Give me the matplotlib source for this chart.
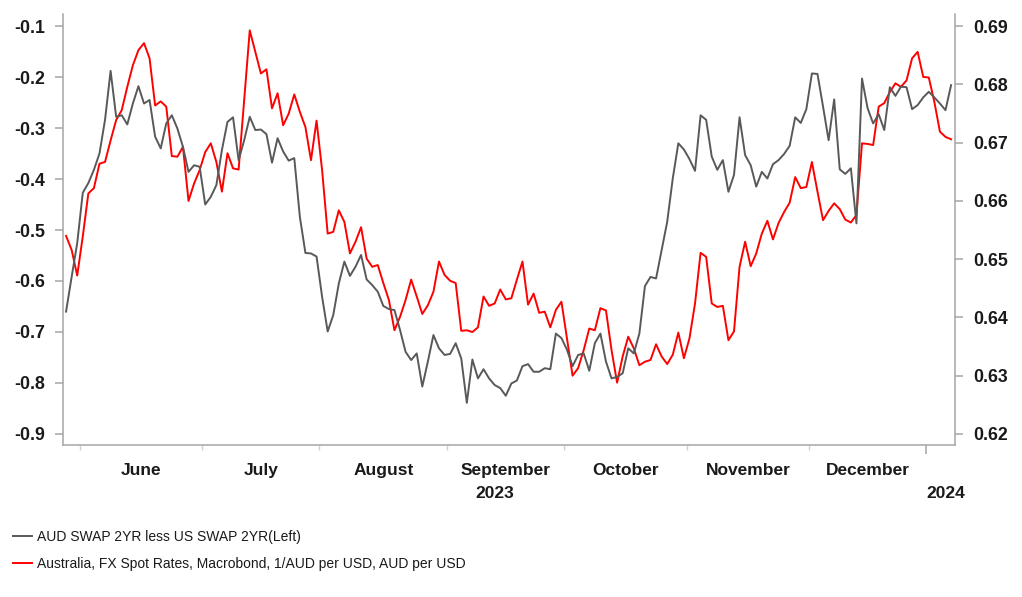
import numpy as np
import pandas as pd
import matplotlib
matplotlib.use('Agg')
import matplotlib.pyplot as plt
from matplotlib.transforms import blended_transform_factory

plt.rcParams['font.family'] = ['Liberation Sans', 'DejaVu Sans']
plt.rcParams['axes.unicode_minus'] = False

# business days, 29 May 2023 .. 5 Jan 2024
dates = pd.bdate_range('2023-05-29', periods=160)

# AUD 2y swap less US 2y swap (left axis)
swap_spread = [
    -0.660, -0.592, -0.526, -0.427, -0.408, -0.382, -0.350, -0.284, -0.188, -0.278,
    -0.275, -0.293, -0.252, -0.218, -0.252, -0.245, -0.317, -0.340, -0.291, -0.275,
    -0.301, -0.337, -0.386, -0.373, -0.376, -0.450, -0.435, -0.412, -0.343, -0.288,
    -0.279, -0.363, -0.324, -0.278, -0.304, -0.303, -0.312, -0.368, -0.320, -0.346,
    -0.364, -0.359, -0.474, -0.545, -0.546, -0.552, -0.631, -0.699, -0.667, -0.605,
    -0.562, -0.590, -0.572, -0.549, -0.597, -0.608, -0.621, -0.649, -0.655, -0.657,
    -0.696, -0.739, -0.755, -0.742, -0.807, -0.758, -0.706, -0.732, -0.745, -0.743,
    -0.722, -0.752, -0.839, -0.754, -0.791, -0.773, -0.791, -0.804, -0.810, -0.825,
    -0.801, -0.795, -0.767, -0.763, -0.778, -0.778, -0.771, -0.773, -0.703, -0.712,
    -0.735, -0.767, -0.745, -0.742, -0.776, -0.722, -0.703, -0.758, -0.791, -0.788,
    -0.781, -0.732, -0.742, -0.703, -0.610, -0.592, -0.595, -0.539, -0.484, -0.399,
    -0.330, -0.342, -0.361, -0.384, -0.275, -0.284, -0.356, -0.382, -0.363, -0.425,
    -0.392, -0.279, -0.353, -0.373, -0.415, -0.386, -0.399, -0.371, -0.363, -0.351,
    -0.335, -0.279, -0.290, -0.263, -0.193, -0.194, -0.258, -0.324, -0.244, -0.381,
    -0.390, -0.379, -0.487, -0.203, -0.261, -0.291, -0.273, -0.304, -0.220, -0.237,
    -0.219, -0.220, -0.263, -0.255, -0.240, -0.229, -0.240, -0.252, -0.265, -0.216,
]

# AUDUSD spot (right axis)
audusd = [
    0.6540, 0.6516, 0.6472, 0.6539, 0.6613, 0.6622, 0.6664, 0.6667, 0.6704, 0.6739,
    0.6756, 0.6796, 0.6833, 0.6859, 0.6871, 0.6845, 0.6764, 0.6771, 0.6762, 0.6677,
    0.6676, 0.6693, 0.6600, 0.6630, 0.6653, 0.6684, 0.6699, 0.6667, 0.6616, 0.6682,
    0.6656, 0.6654, 0.6773, 0.6893, 0.6856, 0.6819, 0.6826, 0.6759, 0.6785, 0.6730,
    0.6750, 0.6783, 0.6753, 0.6727, 0.6670, 0.6738, 0.6653, 0.6544, 0.6547, 0.6584,
    0.6564, 0.6510, 0.6530, 0.6555, 0.6501, 0.6487, 0.6490, 0.6459, 0.6430, 0.6378,
    0.6401, 0.6430, 0.6465, 0.6436, 0.6406, 0.6421, 0.6444, 0.6496, 0.6473, 0.6463,
    0.6459, 0.6377, 0.6378, 0.6375, 0.6383, 0.6436, 0.6420, 0.6424, 0.6448, 0.6431,
    0.6433, 0.6465, 0.6496, 0.6422, 0.6441, 0.6408, 0.6410, 0.6383, 0.6413, 0.6427,
    0.6364, 0.6300, 0.6313, 0.6344, 0.6381, 0.6378, 0.6416, 0.6412, 0.6344, 0.6288,
    0.6333, 0.6367, 0.6347, 0.6318, 0.6324, 0.6327, 0.6354, 0.6333, 0.6320, 0.6336,
    0.6374, 0.6330, 0.6364, 0.6424, 0.6511, 0.6504, 0.6424, 0.6418, 0.6420, 0.6361,
    0.6376, 0.6487, 0.6530, 0.6488, 0.6510, 0.6544, 0.6566, 0.6534, 0.6562, 0.6581,
    0.6597, 0.6641, 0.6622, 0.6624, 0.6667, 0.6616, 0.6567, 0.6583, 0.6596, 0.6586,
    0.6568, 0.6563, 0.6576, 0.6699, 0.6698, 0.6696, 0.6762, 0.6768, 0.6787, 0.6802,
    0.6796, 0.6807, 0.6845, 0.6856, 0.6813, 0.6812, 0.6770, 0.6719, 0.6710, 0.6706,
]

left_ticks = [-0.9, -0.8, -0.7, -0.6, -0.5, -0.4, -0.3, -0.2, -0.1]
right_ticks = [0.62, 0.63, 0.64, 0.65, 0.66, 0.67, 0.68, 0.69]

spine_col = '#a6a6a6'
txt_col = '#1a1a1a'
fs = 12.8

fig = plt.figure(figsize=(10.22, 5.97), dpi=100)
ax = fig.add_axes([0.0616, 0.2546, 0.8728, 0.7219])
ax2 = ax.twinx()

x = np.arange(len(dates))
l1, = ax.plot(x, swap_spread, color='#595959', lw=1.4, label='AUD SWAP 2YR less US SWAP 2YR(Left)')
l2, = ax2.plot(x, audusd, color='#ff0000', lw=1.4,
               label='Australia, FX Spot Rates, Macrobond, 1/AUD per USD, AUD per USD')
ax2.set_zorder(ax.get_zorder() - 1)
ax.patch.set_visible(False)

ax.set_xlim(-0.56, 159.7)
ax.set_ylim(-0.9216, -0.0765)
ax2.set_ylim(0.6181, 0.6921)

ax.set_yticks(left_ticks)
ax.set_yticklabels(['%.1f' % v for v in left_ticks])
ax2.set_yticks(right_ticks)
ax2.set_yticklabels(['%.2f' % v for v in right_ticks])

for a in (ax, ax2):
    for s in a.spines.values():
        s.set_color(spine_col)
        s.set_linewidth(1.1)
    a.spines['top'].set_visible(False)
ax.spines['right'].set_visible(False)
ax2.spines['left'].set_visible(False)
ax2.spines['bottom'].set_visible(False)

ax.tick_params(axis='y', length=6, width=1.1, color=spine_col, pad=7,
               labelsize=fs, labelcolor=txt_col)
ax2.tick_params(axis='y', length=6, width=1.1, color=spine_col, pad=7,
                labelsize=fs, labelcolor=txt_col)
for lab in ax.get_yticklabels() + ax2.get_yticklabels():
    lab.set_fontweight('bold')

# month boundaries on the business day axis
months = dates.to_period('M')
starts = [i for i in range(1, len(dates)) if months[i] != months[i - 1]]
bounds = [i - 0.5 for i in starts]
year_bound = [b for b, i in zip(bounds, starts) if dates[i].month == 1]
month_bounds = [b for b in bounds if b not in year_bound]

ax.set_xticks(month_bounds)
ax.set_xticklabels([])
ax.set_xticks(year_bound, minor=True)
ax.tick_params(axis='x', which='major', length=3.6, width=1, color='#d0d0d0')
ax.tick_params(axis='x', which='minor', length=6.5, width=1.1, color=spine_col)

trans = blended_transform_factory(ax.transData, ax.transAxes)
for a, b in zip(bounds[:-1], bounds[1:]):
    ax.text((a + b) / 2, -0.058, dates[int(b + 0.5) - 1].strftime('%B'), transform=trans,
            ha='center', va='center', fontsize=12.5, fontweight='bold', color=txt_col)
ax.text((-0.5 + year_bound[0]) / 2, -0.112, '2023', transform=trans,
        ha='center', va='center', fontsize=12.5, fontweight='bold', color=txt_col)
ax.text(year_bound[0] + 0.1, -0.112, '2024', transform=trans,
        ha='left', va='center', fontsize=12.5, fontweight='bold', color=txt_col)

fig.legend(handles=[l1, l2], loc='upper left', bbox_to_anchor=(0.013, 0.112),
           frameon=False, fontsize=10, handlelength=1.35, handletextpad=0.33,
           labelspacing=0.95, borderpad=0, borderaxespad=0, labelcolor=txt_col)

fig.savefig('out.png', dpi=100)
